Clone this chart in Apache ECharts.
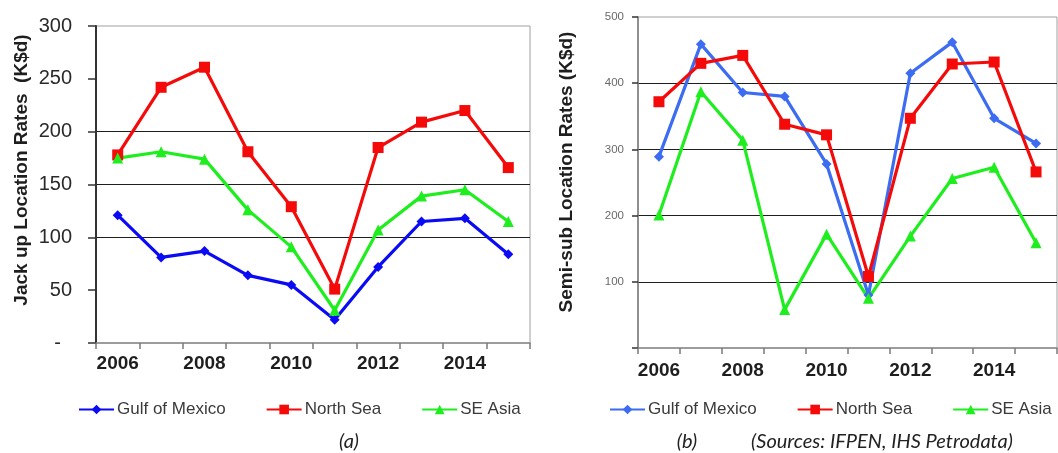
<!DOCTYPE html>
<html>
<head>
<meta charset="utf-8">
<script src="https://cdn.jsdelivr.net/npm/echarts@6/dist/echarts.min.js"></script>
<style>
  html, body { margin: 0; padding: 0; background: #fff; width: 1058px; height: 453px; overflow: hidden; }
  #jack { position: absolute; left: 0; top: 0; width: 540px; height: 453px; }
  #semi { position: absolute; left: 540px; top: 0; width: 518px; height: 453px; }
</style>
</head>
<body>
<div id="jack"></div>
<div id="semi"></div>
<script>
// Day rates by region, K$/day
const years = ['2006', '2007', '2008', '2009', '2010', '2011', '2012', '2013', '2014', '2015'];
const seriesNames = ['Gulf of Mexico', 'North Sea', 'SE Asia'];

// (a) jack-up rigs
const jackGulf  = [121, 81, 87, 64, 55, 22, 72, 115, 118, 84];
const jackNorth = [178, 242, 261, 181, 129, 51, 185, 209, 220, 166];
const jackAsia  = [175, 181, 174, 126, 91, 31, 107, 139, 145, 115];
const jackTickLabels = ['-  ', '50', '100', '150', '200', '250', '300'];
const jackGridValues = [100, 150, 200];

// (b) semi-submersible rigs
const semiGulf  = [289, 459, 386, 380, 278, 80, 415, 462, 347, 309];
const semiNorth = [372, 430, 442, 338, 322, 108, 347, 429, 432, 266];
const semiAsia  = [201, 387, 314, 58, 172, 75, 169, 256, 273, 159];
const semiTickLabels = ['', '100', '200', '300', '400', '500'];
const semiGridValues = [100, 200, 300, 400];

const FONT = "'Liberation Sans', Arial, sans-serif";
const CAPTION_FONT = "italic 20px Lato, 'Open Sans', sans-serif";
const CLEAR = 'rgba(0,0,0,0)';

// colour for each split line, by tick value
function splitColors(max, step, shown) {
  const out = [];
  for (let v = 0; v <= max; v += step) out.push(shown.indexOf(v) >= 0 ? '#1e1e1e' : CLEAR);
  return out;
}

function lineSeries(name, data, color, symbol, size) {
  return {
    name, type: 'line', data,
    symbol, symbolSize: size, showSymbol: true,
    lineStyle: { color, width: 3.2 },
    itemStyle: { color, borderWidth: 0 },
    emphasis: { disabled: true },
    animation: false
  };
}

function legend(left) {
  return {
    left, top: 401, width: 500, padding: 0,
    itemWidth: 35, itemHeight: 12, itemGap: 40,
    data: seriesNames,
    textStyle: { fontFamily: FONT, fontSize: 17, color: '#3a3a3a', padding: [0, 0, 0, -2] }
  };
}

function xAxis(labelMargin) {
  return {
    type: 'category', data: years, boundaryGap: true,
    axisLine: { show: true, lineStyle: { color: '#8c8c8c', width: 1.5 } },
    axisTick: { show: true, interval: 0, length: 6, lineStyle: { color: '#7a7a7a', width: 1.5 } },
    axisLabel: { interval: 1, margin: labelMargin, fontFamily: FONT, fontSize: 19, fontWeight: 'bold', color: '#1e1e1e' },
    splitLine: { show: false }
  };
}

// ---- (a) jack-up chart
const jack = echarts.init(document.getElementById('jack'), null, { renderer: 'canvas' });
jack.setOption({
  animation: false,
  backgroundColor: '#fff',
  grid: { left: 96, right: 10, top: 26, bottom: 110, show: true, borderColor: '#a0a0a0', borderWidth: 1, containLabel: false },
  legend: legend(78),
  xAxis: xAxis(11),
  yAxis: {
    type: 'value', min: 0, max: 300, interval: 50,
    axisLine: { show: true, lineStyle: { color: '#333', width: 2 } },
    axisTick: { show: true, inside: false, length: 8, lineStyle: { color: '#333', width: 1.5 } },
    axisLabel: {
      margin: 24, fontFamily: FONT, fontSize: 20, color: '#2a2a2a',
      formatter: v => jackTickLabels[Math.round(v / 50)]
    },
    splitLine: { show: true, showMinLine: true, showMaxLine: true,
      lineStyle: { color: splitColors(300, 50, jackGridValues), width: 1.2 } }
  },
  series: [
    lineSeries(seriesNames[0], jackGulf, '#0a0af5', 'diamond', 10),
    lineSeries(seriesNames[1], jackNorth, '#f50a0a', 'rect', 11),
    lineSeries(seriesNames[2], jackAsia, '#1eee1e', 'triangle', 11)
  ],
  graphic: [
    { type: 'text', x: 22, y: 170, rotation: Math.PI / 2,
      style: { text: 'Jack up Location Rates  (K$d)', font: "bold 19px " + FONT, fill: '#1e1e1e', textAlign: 'center', textVerticalAlign: 'middle' } },
    { type: 'text', x: 349, y: 442,
      style: { text: '(a)', font: CAPTION_FONT, fill: '#222', textAlign: 'center', textVerticalAlign: 'middle' } }
  ]
});

// ---- (b) semi-submersible chart
const semi = echarts.init(document.getElementById('semi'), null, { renderer: 'canvas' });
semi.setOption({
  animation: false,
  backgroundColor: '#fff',
  grid: { left: 98, right: 1, top: 17, bottom: 105, show: true, borderColor: '#a0a0a0', borderWidth: 1, containLabel: false },
  legend: legend(69),
  xAxis: xAxis(13),
  yAxis: {
    type: 'value', min: 0, max: 500, interval: 100,
    axisLine: { show: true, lineStyle: { color: '#7a7a7a', width: 1.5 } },
    axisTick: { show: true, inside: false, length: 6, lineStyle: { color: '#333', width: 1.5 } },
    axisLabel: {
      margin: 14, fontFamily: FONT, fontSize: 11.5, color: '#6a6a6a',
      formatter: v => semiTickLabels[Math.round(v / 100)]
    },
    splitLine: { show: true, showMinLine: true, showMaxLine: true,
      lineStyle: { color: splitColors(500, 100, semiGridValues), width: 1.2 } }
  },
  series: [
    lineSeries(seriesNames[0], semiGulf, '#3b6cf2', 'diamond', 10),
    lineSeries(seriesNames[1], semiNorth, '#f50a0a', 'rect', 11),
    lineSeries(seriesNames[2], semiAsia, '#1eee1e', 'triangle', 11)
  ],
  graphic: [
    { type: 'text', x: 27, y: 172, rotation: Math.PI / 2,
      style: { text: 'Semi-sub Location Rates (K$d)', font: "bold 19px " + FONT, fill: '#1e1e1e', textAlign: 'center', textVerticalAlign: 'middle' } },
    { type: 'text', x: 147, y: 442,
      style: { text: '(b)', font: CAPTION_FONT, fill: '#222', textAlign: 'center', textVerticalAlign: 'middle' } },
    { type: 'text', x: 342, y: 442,
      style: { text: '(Sources: IFPEN, IHS Petrodata)', font: CAPTION_FONT, fill: '#222', textAlign: 'center', textVerticalAlign: 'middle' } }
  ]
});
</script>
</body>
</html>
